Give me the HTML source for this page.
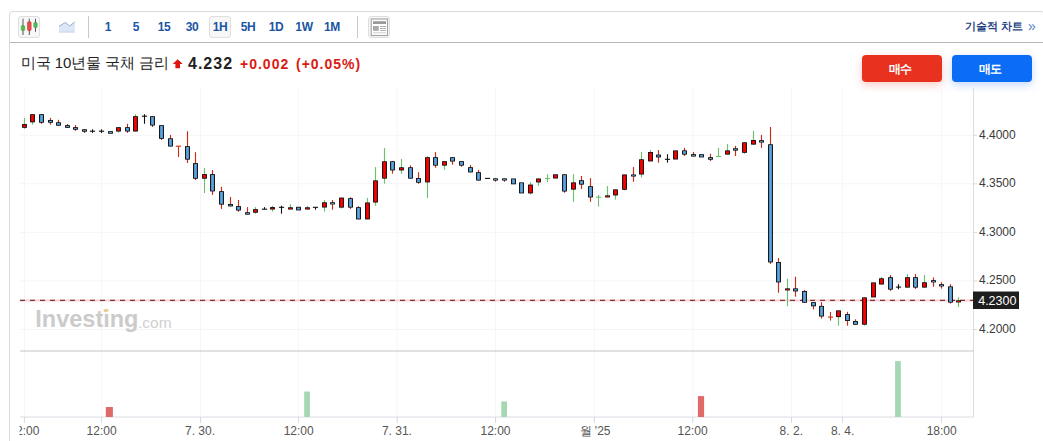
<!DOCTYPE html>
<html><head><meta charset="utf-8"><style>
html,body{margin:0;padding:0;background:#fff;}
body{width:1043px;height:441px;overflow:hidden;position:relative;font-family:"Liberation Sans",sans-serif;}
.box{position:absolute;left:9px;top:11px;width:1036px;height:460px;border:1px solid #d9d9d9;border-radius:4px;box-sizing:border-box;}
.tb{position:absolute;left:10px;top:42px;width:1040px;height:1px;background:#b8b8b8;}
.tf{position:absolute;top:17px;height:21px;line-height:21px;font-size:12px;font-weight:bold;color:#1b55a3;text-align:center;letter-spacing:-0.3px;}
.btnbox{position:absolute;box-sizing:border-box;border:1px solid #dfdfdf;background:#f7f7f7;border-radius:3px;}
.sep{position:absolute;top:16px;width:1px;height:22px;background:#c8c8c8;}
.title{position:absolute;left:21px;top:53.5px;font-size:15px;color:#222;white-space:nowrap;letter-spacing:-0.1px;}
.price{position:absolute;left:188px;top:55.5px;font-size:16px;font-weight:bold;color:#222;letter-spacing:1px;line-height:16px;}
.chg{position:absolute;top:56.5px;font-size:14px;font-weight:bold;color:#d91a13;white-space:nowrap;letter-spacing:1px;line-height:14px;}
.buy,.sell{position:absolute;top:55px;width:80px;height:27px;border-radius:4px;color:#fff;font-size:12px;font-weight:bold;text-align:center;line-height:29px;text-indent:-5px;letter-spacing:-1px;font-weight:900;}
.buy{left:862px;background:#e8321f;box-shadow:0 3px 8px rgba(232,50,31,0.25);}
.sell{left:952px;background:#0b6df6;box-shadow:0 3px 8px rgba(11,109,246,0.25);}
.tech{position:absolute;left:965px;top:20.2px;font-size:10.8px;font-weight:bold;color:#1f4380;white-space:nowrap;}
svg{position:absolute;left:0;top:0;}
</style></head><body>
<div class="box"></div>
<div class="tb"></div>
<div class="btnbox" style="left:18px;top:16px;width:22px;height:22px;"></div>
<svg width="1043" height="441" style="z-index:1">
<!-- candle icon -->
<line x1="23" y1="18.7" x2="23" y2="35" stroke="#444" stroke-width="0.9"/>
<rect x="21.3" y="25.6" width="3.4" height="5" rx="1" fill="#56bb56" stroke="#3a9a3a" stroke-width="0.6"/>
<line x1="29.3" y1="18.7" x2="29.3" y2="35" stroke="#444" stroke-width="0.9"/>
<rect x="27.5" y="21.8" width="3.6" height="8.8" rx="1" fill="#ee4a4a" stroke="#c03030" stroke-width="0.6"/>
<line x1="35.5" y1="18.7" x2="35.5" y2="31.8" stroke="#444" stroke-width="0.9"/>
<rect x="33.8" y="22.5" width="3.4" height="4.9" rx="1" fill="#56bb56" stroke="#3a9a3a" stroke-width="0.6"/>
<!-- area icon -->
<path d="M59 26.3 L65.3 22.5 L69.7 26 L74.8 21.9 L74.8 32.4 L59 32.4 Z" fill="#dde6f5" stroke="none"/>
<path d="M59 26.3 L65.3 22.5 L69.7 26 L74.8 21.9" fill="none" stroke="#93acd6" stroke-width="1"/>
<line x1="59" y1="32" x2="74.8" y2="32" stroke="#cdd6ea" stroke-width="1"/>
</svg>
<div class="sep" style="left:88px"></div>
<div class="tf" style="left:101px;width:14px">1</div>
<div class="tf" style="left:129px;width:14px">5</div>
<div class="tf" style="left:156px;width:16px">15</div>
<div class="tf" style="left:184px;width:16px">30</div>
<div class="btnbox" style="left:209px;top:16px;width:22px;height:22px;"></div>
<div class="tf" style="left:209px;width:22px;z-index:2">1H</div>
<div class="tf" style="left:238px;width:20px">5H</div>
<div class="tf" style="left:266px;width:20px">1D</div>
<div class="tf" style="left:293px;width:22px">1W</div>
<div class="tf" style="left:322px;width:20px">1M</div>
<div class="sep" style="left:357px"></div>
<div class="btnbox" style="left:368px;top:16px;width:22px;height:22px;"></div>
<svg width="1043" height="441" style="z-index:2">
<rect x="371.2" y="19" width="16.3" height="16.5" fill="#fff" stroke="#a2a2a2" stroke-width="1.1"/>
<rect x="373" y="21.2" width="13" height="2.8" fill="#9a9a9a"/>
<rect x="373" y="26" width="5.8" height="4.8" fill="#aaa"/>
<rect x="380" y="26" width="6" height="0.9" fill="#aaa"/>
<rect x="380" y="28" width="6" height="0.9" fill="#aaa"/>
<rect x="380" y="30" width="6" height="0.9" fill="#aaa"/>
<rect x="373" y="32.3" width="13" height="1" fill="#ccc"/>
</svg>
<div class="tech">기술적 차트</div><div style="position:absolute;left:1028px;top:18.3px;font-size:14px;color:#5a7dbf;">»</div>
<div class="title">미국 10년물 국채 금리</div>
<svg width="1043" height="441" style="z-index:1"><path d="M177.7 59.2 L182.7 64 L180 64 L180 68.2 L175.4 68.2 L175.4 64 L172.7 64 Z" fill="#e0150d"/></svg>
<div class="price">4.232</div>
<div class="chg" style="left:240px">+0.002</div><div class="chg" style="left:296px">(+0.05%)</div>
<div class="buy">매수</div>
<div class="sell">매도</div>
<svg width="1043" height="441" style="z-index:0">
<line x1="24.4" y1="88" x2="24.4" y2="417" stroke="#f5f5f8" stroke-width="1"/>
<line x1="24.4" y1="417" x2="24.4" y2="423" stroke="#d8d8e0" stroke-width="1"/>
<line x1="101.4" y1="88" x2="101.4" y2="417" stroke="#f5f5f8" stroke-width="1"/>
<line x1="101.4" y1="417" x2="101.4" y2="423" stroke="#d8d8e0" stroke-width="1"/>
<line x1="200.6" y1="88" x2="200.6" y2="417" stroke="#f5f5f8" stroke-width="1"/>
<line x1="200.6" y1="417" x2="200.6" y2="423" stroke="#d8d8e0" stroke-width="1"/>
<line x1="298.6" y1="88" x2="298.6" y2="417" stroke="#f5f5f8" stroke-width="1"/>
<line x1="298.6" y1="417" x2="298.6" y2="423" stroke="#d8d8e0" stroke-width="1"/>
<line x1="397.2" y1="88" x2="397.2" y2="417" stroke="#f5f5f8" stroke-width="1"/>
<line x1="397.2" y1="417" x2="397.2" y2="423" stroke="#d8d8e0" stroke-width="1"/>
<line x1="495.5" y1="88" x2="495.5" y2="417" stroke="#f5f5f8" stroke-width="1"/>
<line x1="495.5" y1="417" x2="495.5" y2="423" stroke="#d8d8e0" stroke-width="1"/>
<line x1="594.3" y1="88" x2="594.3" y2="417" stroke="#f5f5f8" stroke-width="1"/>
<line x1="594.3" y1="417" x2="594.3" y2="423" stroke="#d8d8e0" stroke-width="1"/>
<line x1="692.7" y1="88" x2="692.7" y2="417" stroke="#f5f5f8" stroke-width="1"/>
<line x1="692.7" y1="417" x2="692.7" y2="423" stroke="#d8d8e0" stroke-width="1"/>
<line x1="791.5" y1="88" x2="791.5" y2="417" stroke="#f5f5f8" stroke-width="1"/>
<line x1="791.5" y1="417" x2="791.5" y2="423" stroke="#d8d8e0" stroke-width="1"/>
<line x1="842.6" y1="88" x2="842.6" y2="417" stroke="#f5f5f8" stroke-width="1"/>
<line x1="842.6" y1="417" x2="842.6" y2="423" stroke="#d8d8e0" stroke-width="1"/>
<line x1="941.4" y1="88" x2="941.4" y2="417" stroke="#f5f5f8" stroke-width="1"/>
<line x1="941.4" y1="417" x2="941.4" y2="423" stroke="#d8d8e0" stroke-width="1"/>
<line x1="20" y1="135.3" x2="973" y2="135.3" stroke="#f5f5f8" stroke-width="1"/>
<line x1="973" y1="135.3" x2="977" y2="135.3" stroke="#d8d8e0" stroke-width="1"/>
<line x1="20" y1="183.85" x2="973" y2="183.85" stroke="#f5f5f8" stroke-width="1"/>
<line x1="973" y1="183.85" x2="977" y2="183.85" stroke="#d8d8e0" stroke-width="1"/>
<line x1="20" y1="232.4" x2="973" y2="232.4" stroke="#f5f5f8" stroke-width="1"/>
<line x1="973" y1="232.4" x2="977" y2="232.4" stroke="#d8d8e0" stroke-width="1"/>
<line x1="20" y1="280.95" x2="973" y2="280.95" stroke="#f5f5f8" stroke-width="1"/>
<line x1="973" y1="280.95" x2="977" y2="280.95" stroke="#d8d8e0" stroke-width="1"/>
<line x1="20" y1="329.5" x2="973" y2="329.5" stroke="#f5f5f8" stroke-width="1"/>
<line x1="973" y1="329.5" x2="977" y2="329.5" stroke="#d8d8e0" stroke-width="1"/>
<line x1="973.5" y1="88" x2="973.5" y2="417" stroke="#dcdce6" stroke-width="1"/>
<line x1="20" y1="351" x2="973.5" y2="351" stroke="#c4c4c8" stroke-width="1"/>
<line x1="20" y1="417" x2="973.5" y2="417" stroke="#dcdce4" stroke-width="1"/>
<g font-family="Liberation Sans" font-size="20.5" font-weight="bold" fill="#cbcbcb">
<text x="35.3" y="327.2" font-size="23.5">Investing</text>
<text x="138" y="327.5" font-size="15.5" font-weight="normal" fill="#d0d0d0">.com</text>
</g>
<rect x="103.7" y="309.2" width="3.5" height="3" fill="#f6cc85"/>
<rect x="105.8" y="407" width="7.1" height="10.0" fill="#e06a6a"/>
<rect x="304.2" y="391.5" width="5.7" height="25.5" fill="#a3d8b3"/>
<rect x="501.3" y="401.4" width="5.7" height="15.6" fill="#a3d8b3"/>
<rect x="697.9" y="396.1" width="6.2" height="20.9" fill="#e06a6a"/>
<rect x="895.1" y="361.1" width="5.7" height="55.9" fill="#a3d8b3"/>
<line x1="20" y1="300.4" x2="973" y2="300.4" stroke="#f8d0d0" stroke-width="2"/>
<line x1="20" y1="300.4" x2="973" y2="300.4" stroke="#7a3535" stroke-width="1.2" stroke-dasharray="5 5"/>
<line x1="24.5" y1="117.9" x2="24.5" y2="128.9" stroke="#6fbf6f" stroke-width="1.15"/>
<rect x="22.10" y="124.10" width="4.8" height="3.70" fill="#000"/>
<rect x="23.10" y="124.85" width="2.8" height="2.20" fill="#ff0000"/>
<line x1="32.5" y1="114.2" x2="32.5" y2="124.7" stroke="#6fbf6f" stroke-width="1.15"/>
<rect x="30.10" y="114.20" width="4.8" height="8.10" fill="#000"/>
<rect x="31.10" y="114.95" width="2.8" height="6.60" fill="#ff0000"/>
<line x1="41.5" y1="114.2" x2="41.5" y2="123.8" stroke="#c92d14" stroke-width="1.15"/>
<rect x="39.10" y="114.20" width="4.8" height="8.50" fill="#000"/>
<rect x="40.10" y="114.95" width="2.8" height="7.00" fill="#5aa5e3"/>
<line x1="50.5" y1="117.9" x2="50.5" y2="124.7" stroke="#c92d14" stroke-width="1.15"/>
<rect x="48.10" y="120.00" width="4.8" height="2.70" fill="#000"/>
<rect x="49.10" y="120.75" width="2.8" height="1.20" fill="#5aa5e3"/>
<line x1="58.5" y1="119.8" x2="58.5" y2="125.7" stroke="#c92d14" stroke-width="1.15"/>
<rect x="56.10" y="122.30" width="4.8" height="3.40" fill="#000"/>
<rect x="57.10" y="123.05" width="2.8" height="1.90" fill="#5aa5e3"/>
<line x1="67.5" y1="124.0" x2="67.5" y2="127.8" stroke="#c92d14" stroke-width="1.15"/>
<rect x="65.10" y="125.20" width="4.8" height="2.60" fill="#000"/>
<rect x="66.10" y="125.95" width="2.8" height="1.10" fill="#5aa5e3"/>
<line x1="75.5" y1="125.0" x2="75.5" y2="130.8" stroke="#c92d14" stroke-width="1.15"/>
<rect x="73.10" y="127.20" width="4.8" height="2.50" fill="#000"/>
<rect x="74.10" y="127.95" width="2.8" height="1.00" fill="#5aa5e3"/>
<line x1="84.5" y1="129.3" x2="84.5" y2="132.9" stroke="#c92d14" stroke-width="1.15"/>
<rect x="82.10" y="129.30" width="4.8" height="2.40" fill="#000"/>
<rect x="83.10" y="130.05" width="2.8" height="0.90" fill="#5aa5e3"/>
<line x1="92.5" y1="129.3" x2="92.5" y2="132.9" stroke="#111" stroke-width="1.1"/>
<line x1="89.9" y1="131.2" x2="95.1" y2="131.2" stroke="#111" stroke-width="1.1"/>
<line x1="101.5" y1="129.3" x2="101.5" y2="132.9" stroke="#111" stroke-width="1.1"/>
<line x1="98.9" y1="131.2" x2="104.1" y2="131.2" stroke="#111" stroke-width="1.1"/>
<rect x="108.10" y="131.20" width="4.8" height="2.50" fill="#000"/>
<rect x="109.10" y="131.95" width="2.8" height="1.00" fill="#5aa5e3"/>
<line x1="118.5" y1="127.2" x2="118.5" y2="132.7" stroke="#6fbf6f" stroke-width="1.15"/>
<rect x="116.10" y="127.20" width="4.8" height="4.30" fill="#000"/>
<rect x="117.10" y="127.95" width="2.8" height="2.80" fill="#ff0000"/>
<line x1="127.5" y1="123.8" x2="127.5" y2="132.9" stroke="#c92d14" stroke-width="1.15"/>
<rect x="125.10" y="127.20" width="4.8" height="4.30" fill="#000"/>
<rect x="126.10" y="127.95" width="2.8" height="2.80" fill="#5aa5e3"/>
<line x1="135.5" y1="114.2" x2="135.5" y2="131.5" stroke="#6fbf6f" stroke-width="1.15"/>
<rect x="133.10" y="116.20" width="4.8" height="15.30" fill="#000"/>
<rect x="134.10" y="116.95" width="2.8" height="13.80" fill="#ff0000"/>
<line x1="144.5" y1="114.2" x2="144.5" y2="123.8" stroke="#111" stroke-width="1.1"/>
<line x1="141.9" y1="116.2" x2="147.1" y2="116.2" stroke="#111" stroke-width="1.1"/>
<line x1="152.5" y1="116.2" x2="152.5" y2="127.0" stroke="#c92d14" stroke-width="1.15"/>
<rect x="150.10" y="116.20" width="4.8" height="9.30" fill="#000"/>
<rect x="151.10" y="116.95" width="2.8" height="7.80" fill="#5aa5e3"/>
<line x1="161.5" y1="125.2" x2="161.5" y2="139.9" stroke="#c92d14" stroke-width="1.15"/>
<rect x="159.10" y="125.20" width="4.8" height="13.60" fill="#000"/>
<rect x="160.10" y="125.95" width="2.8" height="12.10" fill="#5aa5e3"/>
<line x1="170.5" y1="134.9" x2="170.5" y2="146.5" stroke="#c92d14" stroke-width="1.15"/>
<rect x="168.10" y="138.30" width="4.8" height="8.20" fill="#000"/>
<rect x="169.10" y="139.05" width="2.8" height="6.70" fill="#5aa5e3"/>
<line x1="178.5" y1="146.2" x2="178.5" y2="157.0" stroke="#c92d14" stroke-width="1.1"/>
<line x1="175.9" y1="146.2" x2="181.1" y2="146.2" stroke="#c92d14" stroke-width="1.1"/>
<line x1="187.5" y1="131.2" x2="187.5" y2="163.0" stroke="#c92d14" stroke-width="1.15"/>
<rect x="185.10" y="146.20" width="4.8" height="13.40" fill="#000"/>
<rect x="186.10" y="146.95" width="2.8" height="11.90" fill="#5aa5e3"/>
<line x1="195.5" y1="152.2" x2="195.5" y2="180.0" stroke="#c92d14" stroke-width="1.15"/>
<rect x="193.10" y="163.10" width="4.8" height="15.60" fill="#000"/>
<rect x="194.10" y="163.85" width="2.8" height="14.10" fill="#5aa5e3"/>
<line x1="204.5" y1="168.1" x2="204.5" y2="193.0" stroke="#6fbf6f" stroke-width="1.15"/>
<rect x="202.10" y="174.10" width="4.8" height="4.60" fill="#000"/>
<rect x="203.10" y="174.85" width="2.8" height="3.10" fill="#ff0000"/>
<line x1="212.5" y1="170.0" x2="212.5" y2="194.9" stroke="#c92d14" stroke-width="1.15"/>
<rect x="210.10" y="174.10" width="4.8" height="17.30" fill="#000"/>
<rect x="211.10" y="174.85" width="2.8" height="15.80" fill="#5aa5e3"/>
<line x1="221.5" y1="186.8" x2="221.5" y2="208.9" stroke="#c92d14" stroke-width="1.15"/>
<rect x="219.10" y="191.20" width="4.8" height="13.40" fill="#000"/>
<rect x="220.10" y="191.95" width="2.8" height="11.90" fill="#5aa5e3"/>
<line x1="230.5" y1="197.0" x2="230.5" y2="206.4" stroke="#c92d14" stroke-width="1.15"/>
<rect x="228.10" y="204.00" width="4.8" height="2.40" fill="#000"/>
<rect x="229.10" y="204.75" width="2.8" height="0.90" fill="#5aa5e3"/>
<line x1="238.5" y1="199.9" x2="238.5" y2="211.7" stroke="#c92d14" stroke-width="1.15"/>
<rect x="236.10" y="206.10" width="4.8" height="4.40" fill="#000"/>
<rect x="237.10" y="206.85" width="2.8" height="2.90" fill="#5aa5e3"/>
<line x1="247.5" y1="207.1" x2="247.5" y2="214.6" stroke="#c92d14" stroke-width="1.15"/>
<rect x="245.10" y="212.30" width="4.8" height="2.30" fill="#000"/>
<rect x="246.10" y="213.05" width="2.8" height="0.90" fill="#5aa5e3"/>
<line x1="255.5" y1="207.1" x2="255.5" y2="213.7" stroke="#6fbf6f" stroke-width="1.15"/>
<rect x="253.10" y="209.20" width="4.8" height="3.50" fill="#000"/>
<rect x="254.10" y="209.95" width="2.8" height="2.00" fill="#ff0000"/>
<line x1="264.5" y1="207.1" x2="264.5" y2="209.2" stroke="#111" stroke-width="1.1"/>
<line x1="261.9" y1="209.2" x2="267.1" y2="209.2" stroke="#111" stroke-width="1.1"/>
<line x1="272.5" y1="205.8" x2="272.5" y2="211.6" stroke="#6fbf6f" stroke-width="1.15"/>
<rect x="270.10" y="207.10" width="4.8" height="2.40" fill="#000"/>
<rect x="271.10" y="207.85" width="2.8" height="0.90" fill="#ff0000"/>
<line x1="281.5" y1="205.8" x2="281.5" y2="213.7" stroke="#111" stroke-width="1.1"/>
<line x1="278.9" y1="207.3" x2="284.1" y2="207.3" stroke="#111" stroke-width="1.1"/>
<line x1="290.5" y1="204.2" x2="290.5" y2="209.5" stroke="#6fbf6f" stroke-width="1.15"/>
<rect x="288.10" y="207.30" width="4.8" height="2.20" fill="#000"/>
<rect x="289.10" y="208.05" width="2.8" height="0.90" fill="#ff0000"/>
<rect x="296.10" y="206.80" width="4.8" height="3.60" fill="#000"/>
<rect x="297.10" y="207.55" width="2.8" height="2.10" fill="#5aa5e3"/>
<line x1="307.5" y1="206.1" x2="307.5" y2="209.5" stroke="#6fbf6f" stroke-width="1.15"/>
<rect x="305.10" y="207.30" width="4.8" height="2.20" fill="#000"/>
<rect x="306.10" y="208.05" width="2.8" height="0.90" fill="#ff0000"/>
<line x1="315.5" y1="207.3" x2="315.5" y2="209.7" stroke="#111" stroke-width="1.1"/>
<line x1="312.9" y1="207.3" x2="318.1" y2="207.3" stroke="#111" stroke-width="1.1"/>
<line x1="324.5" y1="200.1" x2="324.5" y2="211.6" stroke="#6fbf6f" stroke-width="1.15"/>
<rect x="322.10" y="202.30" width="4.8" height="5.20" fill="#000"/>
<rect x="323.10" y="203.05" width="2.8" height="3.70" fill="#ff0000"/>
<line x1="332.5" y1="200.1" x2="332.5" y2="209.7" stroke="#c92d14" stroke-width="1.15"/>
<rect x="330.10" y="202.30" width="4.8" height="2.10" fill="#000"/>
<rect x="331.10" y="203.05" width="2.8" height="0.90" fill="#5aa5e3"/>
<line x1="341.5" y1="197.6" x2="341.5" y2="208.5" stroke="#6fbf6f" stroke-width="1.15"/>
<rect x="339.10" y="197.60" width="4.8" height="10.00" fill="#000"/>
<rect x="340.10" y="198.35" width="2.8" height="8.50" fill="#ff0000"/>
<line x1="350.5" y1="197.3" x2="350.5" y2="208.9" stroke="#c92d14" stroke-width="1.15"/>
<rect x="348.10" y="198.20" width="4.8" height="9.40" fill="#000"/>
<rect x="349.10" y="198.95" width="2.8" height="7.90" fill="#5aa5e3"/>
<line x1="358.5" y1="206.3" x2="358.5" y2="219.4" stroke="#c92d14" stroke-width="1.15"/>
<rect x="356.10" y="207.20" width="4.8" height="12.20" fill="#000"/>
<rect x="357.10" y="207.95" width="2.8" height="10.70" fill="#5aa5e3"/>
<line x1="367.5" y1="198.0" x2="367.5" y2="219.4" stroke="#6fbf6f" stroke-width="1.15"/>
<rect x="365.10" y="202.50" width="4.8" height="16.90" fill="#000"/>
<rect x="366.10" y="203.25" width="2.8" height="15.40" fill="#ff0000"/>
<line x1="375.5" y1="167.1" x2="375.5" y2="205.8" stroke="#6fbf6f" stroke-width="1.15"/>
<rect x="373.10" y="180.40" width="4.8" height="22.10" fill="#000"/>
<rect x="374.10" y="181.15" width="2.8" height="20.60" fill="#ff0000"/>
<line x1="384.5" y1="148.1" x2="384.5" y2="183.7" stroke="#6fbf6f" stroke-width="1.15"/>
<rect x="382.10" y="161.30" width="4.8" height="17.30" fill="#000"/>
<rect x="383.10" y="162.05" width="2.8" height="15.80" fill="#ff0000"/>
<line x1="392.5" y1="161.3" x2="392.5" y2="173.7" stroke="#c92d14" stroke-width="1.15"/>
<rect x="390.10" y="161.30" width="4.8" height="9.10" fill="#000"/>
<rect x="391.10" y="162.05" width="2.8" height="7.60" fill="#5aa5e3"/>
<line x1="401.5" y1="159.0" x2="401.5" y2="173.7" stroke="#6fbf6f" stroke-width="1.15"/>
<rect x="399.10" y="167.30" width="4.8" height="3.10" fill="#000"/>
<rect x="400.10" y="168.05" width="2.8" height="1.60" fill="#ff0000"/>
<line x1="410.5" y1="165.3" x2="410.5" y2="178.6" stroke="#c92d14" stroke-width="1.15"/>
<rect x="408.10" y="167.30" width="4.8" height="11.30" fill="#000"/>
<rect x="409.10" y="168.05" width="2.8" height="9.80" fill="#5aa5e3"/>
<line x1="418.5" y1="172.2" x2="418.5" y2="183.7" stroke="#c92d14" stroke-width="1.15"/>
<rect x="416.10" y="178.00" width="4.8" height="4.70" fill="#000"/>
<rect x="417.10" y="178.75" width="2.8" height="3.20" fill="#5aa5e3"/>
<line x1="427.5" y1="156.2" x2="427.5" y2="198.0" stroke="#6fbf6f" stroke-width="1.15"/>
<rect x="425.10" y="157.20" width="4.8" height="25.20" fill="#000"/>
<rect x="426.10" y="157.95" width="2.8" height="23.70" fill="#ff0000"/>
<line x1="435.5" y1="152.1" x2="435.5" y2="167.8" stroke="#c92d14" stroke-width="1.15"/>
<rect x="433.10" y="157.20" width="4.8" height="8.40" fill="#000"/>
<rect x="434.10" y="157.95" width="2.8" height="6.90" fill="#5aa5e3"/>
<line x1="444.5" y1="161.2" x2="444.5" y2="169.9" stroke="#6fbf6f" stroke-width="1.15"/>
<rect x="442.10" y="161.20" width="4.8" height="4.40" fill="#000"/>
<rect x="443.10" y="161.95" width="2.8" height="2.90" fill="#ff0000"/>
<line x1="452.5" y1="157.2" x2="452.5" y2="164.7" stroke="#c92d14" stroke-width="1.15"/>
<rect x="450.10" y="157.20" width="4.8" height="4.30" fill="#000"/>
<rect x="451.10" y="157.95" width="2.8" height="2.80" fill="#5aa5e3"/>
<line x1="461.5" y1="161.2" x2="461.5" y2="166.8" stroke="#c92d14" stroke-width="1.15"/>
<rect x="459.10" y="161.20" width="4.8" height="4.40" fill="#000"/>
<rect x="460.10" y="161.95" width="2.8" height="2.90" fill="#5aa5e3"/>
<line x1="470.5" y1="165.0" x2="470.5" y2="172.4" stroke="#c92d14" stroke-width="1.15"/>
<rect x="468.10" y="167.20" width="4.8" height="5.20" fill="#000"/>
<rect x="469.10" y="167.95" width="2.8" height="3.70" fill="#5aa5e3"/>
<line x1="478.5" y1="169.9" x2="478.5" y2="180.5" stroke="#c92d14" stroke-width="1.15"/>
<rect x="476.10" y="172.20" width="4.8" height="8.30" fill="#000"/>
<rect x="477.10" y="172.95" width="2.8" height="6.80" fill="#5aa5e3"/>
<line x1="484.9" y1="178.4" x2="490.1" y2="178.4" stroke="#111" stroke-width="1.1"/>
<line x1="495.5" y1="178.4" x2="495.5" y2="181.8" stroke="#c92d14" stroke-width="1.15"/>
<rect x="493.10" y="178.40" width="4.8" height="2.10" fill="#000"/>
<rect x="494.10" y="179.15" width="2.8" height="0.90" fill="#5aa5e3"/>
<line x1="504.5" y1="178.4" x2="504.5" y2="181.8" stroke="#c92d14" stroke-width="1.15"/>
<rect x="502.10" y="178.40" width="4.8" height="2.10" fill="#000"/>
<rect x="503.10" y="179.15" width="2.8" height="0.90" fill="#5aa5e3"/>
<rect x="511.10" y="178.50" width="4.8" height="5.80" fill="#000"/>
<rect x="512.10" y="179.25" width="2.8" height="4.30" fill="#5aa5e3"/>
<rect x="519.10" y="182.40" width="4.8" height="11.00" fill="#000"/>
<rect x="520.10" y="183.15" width="2.8" height="9.50" fill="#5aa5e3"/>
<line x1="530.5" y1="182.2" x2="530.5" y2="194.3" stroke="#6fbf6f" stroke-width="1.15"/>
<rect x="528.10" y="184.60" width="4.8" height="8.80" fill="#000"/>
<rect x="529.10" y="185.35" width="2.8" height="7.30" fill="#ff0000"/>
<line x1="538.5" y1="178.5" x2="538.5" y2="186.0" stroke="#6fbf6f" stroke-width="1.15"/>
<rect x="536.10" y="178.50" width="4.8" height="3.90" fill="#000"/>
<rect x="537.10" y="179.25" width="2.8" height="2.40" fill="#ff0000"/>
<line x1="547.5" y1="174.1" x2="547.5" y2="182.2" stroke="#6fbf6f" stroke-width="1.1"/>
<line x1="544.9" y1="178.5" x2="550.1" y2="178.5" stroke="#6fbf6f" stroke-width="1.1"/>
<rect x="553.10" y="174.30" width="4.8" height="4.20" fill="#000"/>
<rect x="554.10" y="175.05" width="2.8" height="2.70" fill="#ff0000"/>
<line x1="564.5" y1="174.3" x2="564.5" y2="192.7" stroke="#c92d14" stroke-width="1.15"/>
<rect x="562.10" y="174.30" width="4.8" height="17.20" fill="#000"/>
<rect x="563.10" y="175.05" width="2.8" height="15.70" fill="#5aa5e3"/>
<line x1="573.5" y1="174.1" x2="573.5" y2="201.8" stroke="#6fbf6f" stroke-width="1.15"/>
<rect x="571.10" y="182.40" width="4.8" height="7.20" fill="#000"/>
<rect x="572.10" y="183.15" width="2.8" height="5.70" fill="#ff0000"/>
<line x1="581.5" y1="176.0" x2="581.5" y2="188.9" stroke="#c92d14" stroke-width="1.15"/>
<rect x="579.10" y="180.20" width="4.8" height="4.40" fill="#000"/>
<rect x="580.10" y="180.95" width="2.8" height="2.90" fill="#5aa5e3"/>
<line x1="590.5" y1="178.1" x2="590.5" y2="201.8" stroke="#c92d14" stroke-width="1.15"/>
<rect x="588.10" y="186.20" width="4.8" height="11.20" fill="#000"/>
<rect x="589.10" y="186.95" width="2.8" height="9.70" fill="#5aa5e3"/>
<line x1="598.5" y1="195.0" x2="598.5" y2="206.6" stroke="#6fbf6f" stroke-width="1.1"/>
<line x1="595.9" y1="197.2" x2="601.1" y2="197.2" stroke="#6fbf6f" stroke-width="1.1"/>
<line x1="607.5" y1="186.0" x2="607.5" y2="197.4" stroke="#6fbf6f" stroke-width="1.15"/>
<rect x="605.10" y="195.40" width="4.8" height="2.00" fill="#000"/>
<rect x="606.10" y="196.15" width="2.8" height="0.90" fill="#ff0000"/>
<line x1="615.5" y1="189.4" x2="615.5" y2="199.6" stroke="#6fbf6f" stroke-width="1.15"/>
<rect x="613.10" y="189.40" width="4.8" height="6.00" fill="#000"/>
<rect x="614.10" y="190.15" width="2.8" height="4.50" fill="#ff0000"/>
<line x1="624.5" y1="174.5" x2="624.5" y2="190.3" stroke="#6fbf6f" stroke-width="1.15"/>
<rect x="622.10" y="174.50" width="4.8" height="15.30" fill="#000"/>
<rect x="623.10" y="175.25" width="2.8" height="13.80" fill="#ff0000"/>
<line x1="633.5" y1="167.0" x2="633.5" y2="181.8" stroke="#c92d14" stroke-width="1.15"/>
<rect x="631.10" y="174.50" width="4.8" height="2.00" fill="#000"/>
<rect x="632.10" y="175.25" width="2.8" height="0.90" fill="#5aa5e3"/>
<line x1="641.5" y1="152.0" x2="641.5" y2="177.5" stroke="#6fbf6f" stroke-width="1.15"/>
<rect x="639.10" y="159.30" width="4.8" height="15.20" fill="#000"/>
<rect x="640.10" y="160.05" width="2.8" height="13.70" fill="#ff0000"/>
<line x1="650.5" y1="150.0" x2="650.5" y2="161.4" stroke="#6fbf6f" stroke-width="1.15"/>
<rect x="648.10" y="152.00" width="4.8" height="9.40" fill="#000"/>
<rect x="649.10" y="152.75" width="2.8" height="7.90" fill="#ff0000"/>
<line x1="658.5" y1="150.0" x2="658.5" y2="162.7" stroke="#c92d14" stroke-width="1.15"/>
<rect x="656.10" y="154.60" width="4.8" height="2.80" fill="#000"/>
<rect x="657.10" y="155.35" width="2.8" height="1.30" fill="#5aa5e3"/>
<line x1="667.5" y1="154.2" x2="667.5" y2="162.7" stroke="#111" stroke-width="1.1"/>
<line x1="664.9" y1="159.3" x2="670.1" y2="159.3" stroke="#111" stroke-width="1.1"/>
<rect x="673.10" y="150.40" width="4.8" height="9.10" fill="#000"/>
<rect x="674.10" y="151.15" width="2.8" height="7.60" fill="#ff0000"/>
<line x1="684.5" y1="147.8" x2="684.5" y2="156.0" stroke="#c92d14" stroke-width="1.15"/>
<rect x="682.10" y="150.40" width="4.8" height="4.20" fill="#000"/>
<rect x="683.10" y="151.15" width="2.8" height="2.70" fill="#5aa5e3"/>
<line x1="693.5" y1="152.0" x2="693.5" y2="156.5" stroke="#c92d14" stroke-width="1.15"/>
<rect x="691.10" y="154.20" width="4.8" height="2.30" fill="#000"/>
<rect x="692.10" y="154.95" width="2.8" height="0.90" fill="#5aa5e3"/>
<rect x="699.10" y="154.20" width="4.8" height="3.20" fill="#000"/>
<rect x="700.10" y="154.95" width="2.8" height="1.70" fill="#5aa5e3"/>
<line x1="710.5" y1="153.8" x2="710.5" y2="161.0" stroke="#c92d14" stroke-width="1.15"/>
<rect x="708.10" y="157.20" width="4.8" height="2.50" fill="#000"/>
<rect x="709.10" y="157.95" width="2.8" height="1.00" fill="#5aa5e3"/>
<line x1="718.5" y1="147.8" x2="718.5" y2="156.5" stroke="#6fbf6f" stroke-width="1.1"/>
<line x1="715.9" y1="156.5" x2="721.1" y2="156.5" stroke="#6fbf6f" stroke-width="1.1"/>
<line x1="727.5" y1="144.0" x2="727.5" y2="154.6" stroke="#6fbf6f" stroke-width="1.15"/>
<rect x="725.10" y="150.40" width="4.8" height="4.20" fill="#000"/>
<rect x="726.10" y="151.15" width="2.8" height="2.70" fill="#ff0000"/>
<line x1="735.5" y1="145.9" x2="735.5" y2="156.0" stroke="#c92d14" stroke-width="1.15"/>
<rect x="733.10" y="148.30" width="4.8" height="2.30" fill="#000"/>
<rect x="734.10" y="149.05" width="2.8" height="0.90" fill="#5aa5e3"/>
<line x1="744.5" y1="142.3" x2="744.5" y2="153.7" stroke="#6fbf6f" stroke-width="1.15"/>
<rect x="742.10" y="142.30" width="4.8" height="10.50" fill="#000"/>
<rect x="743.10" y="143.05" width="2.8" height="9.00" fill="#ff0000"/>
<line x1="753.5" y1="130.8" x2="753.5" y2="144.6" stroke="#6fbf6f" stroke-width="1.15"/>
<rect x="751.10" y="140.00" width="4.8" height="4.60" fill="#000"/>
<rect x="752.10" y="140.75" width="2.8" height="3.10" fill="#ff0000"/>
<line x1="761.5" y1="134.9" x2="761.5" y2="147.9" stroke="#c92d14" stroke-width="1.15"/>
<rect x="759.10" y="140.20" width="4.8" height="2.30" fill="#000"/>
<rect x="760.10" y="140.95" width="2.8" height="0.90" fill="#5aa5e3"/>
<line x1="770.5" y1="127.0" x2="770.5" y2="263.9" stroke="#c92d14" stroke-width="1.15"/>
<rect x="768.10" y="144.30" width="4.8" height="118.10" fill="#000"/>
<rect x="769.10" y="145.05" width="2.8" height="116.60" fill="#5aa5e3"/>
<line x1="778.5" y1="258.0" x2="778.5" y2="292.7" stroke="#c92d14" stroke-width="1.15"/>
<rect x="776.10" y="262.00" width="4.8" height="20.40" fill="#000"/>
<rect x="777.10" y="262.75" width="2.8" height="18.90" fill="#5aa5e3"/>
<line x1="787.5" y1="278.8" x2="787.5" y2="306.3" stroke="#6fbf6f" stroke-width="1.15"/>
<rect x="785.10" y="288.40" width="4.8" height="2.00" fill="#000"/>
<rect x="786.10" y="289.15" width="2.8" height="0.90" fill="#ff0000"/>
<line x1="795.5" y1="276.7" x2="795.5" y2="296.7" stroke="#c92d14" stroke-width="1.15"/>
<rect x="793.10" y="288.40" width="4.8" height="3.00" fill="#000"/>
<rect x="794.10" y="289.15" width="2.8" height="1.50" fill="#5aa5e3"/>
<line x1="804.5" y1="290.0" x2="804.5" y2="302.7" stroke="#c92d14" stroke-width="1.15"/>
<rect x="802.10" y="291.00" width="4.8" height="11.70" fill="#000"/>
<rect x="803.10" y="291.75" width="2.8" height="10.20" fill="#5aa5e3"/>
<line x1="813.5" y1="302.2" x2="813.5" y2="309.4" stroke="#c92d14" stroke-width="1.15"/>
<rect x="811.10" y="302.20" width="4.8" height="4.10" fill="#000"/>
<rect x="812.10" y="302.95" width="2.8" height="2.60" fill="#5aa5e3"/>
<line x1="821.5" y1="302.2" x2="821.5" y2="318.6" stroke="#c92d14" stroke-width="1.15"/>
<rect x="819.10" y="305.90" width="4.8" height="10.60" fill="#000"/>
<rect x="820.10" y="306.65" width="2.8" height="9.10" fill="#5aa5e3"/>
<line x1="830.5" y1="312.0" x2="830.5" y2="320.6" stroke="#c92d14" stroke-width="1.1"/>
<line x1="827.9" y1="317.1" x2="833.1" y2="317.1" stroke="#c92d14" stroke-width="1.1"/>
<line x1="838.5" y1="310.4" x2="838.5" y2="325.7" stroke="#6fbf6f" stroke-width="1.15"/>
<rect x="836.10" y="310.40" width="4.8" height="6.70" fill="#000"/>
<rect x="837.10" y="311.15" width="2.8" height="5.20" fill="#ff0000"/>
<line x1="847.5" y1="311.8" x2="847.5" y2="325.7" stroke="#c92d14" stroke-width="1.15"/>
<rect x="845.10" y="314.10" width="4.8" height="6.90" fill="#000"/>
<rect x="846.10" y="314.85" width="2.8" height="5.40" fill="#5aa5e3"/>
<line x1="855.5" y1="319.3" x2="855.5" y2="324.7" stroke="#c92d14" stroke-width="1.15"/>
<rect x="853.10" y="321.00" width="4.8" height="3.70" fill="#000"/>
<rect x="854.10" y="321.75" width="2.8" height="2.20" fill="#5aa5e3"/>
<line x1="864.5" y1="297.4" x2="864.5" y2="325.5" stroke="#6fbf6f" stroke-width="1.15"/>
<rect x="862.10" y="297.40" width="4.8" height="27.30" fill="#000"/>
<rect x="863.10" y="298.15" width="2.8" height="25.80" fill="#ff0000"/>
<rect x="871.10" y="282.40" width="4.8" height="15.00" fill="#000"/>
<rect x="872.10" y="283.15" width="2.8" height="13.50" fill="#ff0000"/>
<line x1="881.5" y1="277.1" x2="881.5" y2="284.5" stroke="#6fbf6f" stroke-width="1.15"/>
<rect x="879.10" y="278.30" width="4.8" height="6.20" fill="#000"/>
<rect x="880.10" y="279.05" width="2.8" height="4.70" fill="#ff0000"/>
<line x1="890.5" y1="275.0" x2="890.5" y2="290.8" stroke="#c92d14" stroke-width="1.15"/>
<rect x="888.10" y="277.20" width="4.8" height="12.40" fill="#000"/>
<rect x="889.10" y="277.95" width="2.8" height="10.90" fill="#5aa5e3"/>
<line x1="898.5" y1="284.2" x2="898.5" y2="289.3" stroke="#111" stroke-width="1.1"/>
<line x1="895.9" y1="287.1" x2="901.1" y2="287.1" stroke="#111" stroke-width="1.1"/>
<line x1="907.5" y1="274.1" x2="907.5" y2="287.6" stroke="#6fbf6f" stroke-width="1.15"/>
<rect x="905.10" y="277.20" width="4.8" height="10.40" fill="#000"/>
<rect x="906.10" y="277.95" width="2.8" height="8.90" fill="#ff0000"/>
<line x1="915.5" y1="274.1" x2="915.5" y2="288.9" stroke="#c92d14" stroke-width="1.15"/>
<rect x="913.10" y="277.20" width="4.8" height="10.40" fill="#000"/>
<rect x="914.10" y="277.95" width="2.8" height="8.90" fill="#5aa5e3"/>
<line x1="924.5" y1="275.0" x2="924.5" y2="287.6" stroke="#6fbf6f" stroke-width="1.15"/>
<rect x="922.10" y="282.30" width="4.8" height="5.30" fill="#000"/>
<rect x="923.10" y="283.05" width="2.8" height="3.80" fill="#ff0000"/>
<line x1="933.5" y1="277.5" x2="933.5" y2="286.8" stroke="#c92d14" stroke-width="1.15"/>
<rect x="931.10" y="280.20" width="4.8" height="2.20" fill="#000"/>
<rect x="932.10" y="280.95" width="2.8" height="0.90" fill="#5aa5e3"/>
<line x1="941.5" y1="282.3" x2="941.5" y2="288.6" stroke="#c92d14" stroke-width="1.15"/>
<rect x="939.10" y="284.20" width="4.8" height="2.20" fill="#000"/>
<rect x="940.10" y="284.95" width="2.8" height="0.90" fill="#5aa5e3"/>
<line x1="950.5" y1="284.2" x2="950.5" y2="303.6" stroke="#c92d14" stroke-width="1.15"/>
<rect x="948.10" y="286.40" width="4.8" height="16.20" fill="#000"/>
<rect x="949.10" y="287.15" width="2.8" height="14.70" fill="#5aa5e3"/>
<line x1="958.5" y1="297.2" x2="958.5" y2="307.0" stroke="#6fbf6f" stroke-width="1.15"/>
<rect x="956.10" y="300.40" width="4.8" height="2.00" fill="#000"/>
<rect x="957.10" y="301.15" width="2.8" height="0.90" fill="#ff0000"/>
<g font-family="Liberation Sans" font-size="12" fill="#3a3a3a"><text x="979" y="138.8">4.4000</text>
<text x="979" y="187.3">4.3500</text>
<text x="979" y="235.9">4.3000</text>
<text x="979" y="284.4">4.2500</text>
<text x="979" y="333.0">4.2000</text></g>
<rect x="973" y="291.5" width="46" height="17.5" fill="#1e1e1e"/>
<text x="978.2" y="304.5" font-family="Liberation Sans" font-size="12.5" fill="#fff">4.2300</text>
<svg x="19.5" y="418" width="1023" height="23" overflow="hidden"><g transform="translate(-19.5,-418)" font-family="Liberation Sans" font-size="12" fill="#555"><text x="24.4" y="435" text-anchor="middle">12:00</text>
<text x="101.6" y="435" text-anchor="middle">12:00</text>
<text x="200" y="435" text-anchor="middle">7. 30.</text>
<text x="298.7" y="435" text-anchor="middle">12:00</text>
<text x="396.9" y="435" text-anchor="middle">7. 31.</text>
<text x="495.5" y="435" text-anchor="middle">12:00</text>
<text x="595" y="435" text-anchor="middle">월 '25</text>
<text x="692.6" y="435" text-anchor="middle">12:00</text>
<text x="791.3" y="435" text-anchor="middle">8. 2.</text>
<text x="842.6" y="435" text-anchor="middle">8. 4.</text>
<text x="941.7" y="435" text-anchor="middle">18:00</text></g></svg>
</svg>
</body></html>
